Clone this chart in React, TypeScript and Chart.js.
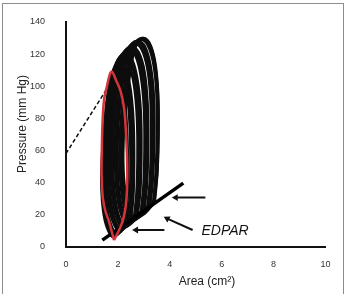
import React, { useEffect, useRef } from 'react';
import { Chart, registerables } from 'chart.js';

Chart.register(...registerables);

const FONT = "'Liberation Sans', Arial, Helvetica, sans-serif";

const xTickValues = [0, 2, 4, 6, 8, 10];
const yTickValues = [0, 20, 40, 60, 80, 100, 120, 140];
const xTitle = 'Area (cm²)';
const yTitle = 'Pressure (mm Hg)';
const edparLabel = 'EDPAR';
const edparLabelPos = [6.13, 9.4];

const loop1 = [[2.28,14],[2.36,26],[2.38,45],[2.36,68],[2.28,88],[2.12,103],[1.92,111],[1.74,106],[1.58,92],[1.46,72],[1.38,52],[1.37,36],[1.44,22],[1.58,12],[1.80,6],[2.02,9],[2.28,14]];
const loop2 = [[2.38,15],[2.46,28],[2.49,48],[2.47,72],[2.38,92],[2.20,106],[2.00,114],[1.80,109],[1.64,95],[1.52,75],[1.44,55],[1.43,38],[1.50,23],[1.64,13],[1.86,7],[2.10,10],[2.38,15]];
const loop2b = [[2.44,16],[2.53,30],[2.56,50],[2.54,74],[2.44,94],[2.26,108],[2.04,115],[1.84,110],[1.68,96],[1.56,76],[1.48,56],[1.47,39],[1.54,24],[1.68,13],[1.90,7],[2.15,10],[2.44,16]];
const loop3 = [[2.50,17],[2.59,31],[2.62,52],[2.60,76],[2.50,96],[2.32,110],[2.08,117],[1.88,112],[1.72,98],[1.60,78],[1.52,58],[1.51,40],[1.58,25],[1.72,14],[1.94,8],[2.20,11],[2.50,17]];
const loop4 = [[2.63,19],[2.72,33],[2.76,55],[2.74,80],[2.63,100],[2.44,113],[2.18,119],[1.96,115],[1.80,101],[1.67,81],[1.59,61],[1.58,42],[1.65,27],[1.80,16],[2.02,10],[2.30,13],[2.63,19]];
const loop4b = [[2.70,20],[2.79,34],[2.83,57],[2.81,82],[2.70,102],[2.50,115],[2.23,120],[2.01,116],[1.84,103],[1.71,83],[1.62,63],[1.61,43],[1.68,28],[1.83,16],[2.06,10],[2.35,13],[2.70,20]];
const loop5 = [[2.76,20],[2.86,35],[2.90,58],[2.88,83],[2.76,103],[2.56,116],[2.28,121],[2.05,117],[1.88,104],[1.75,84],[1.66,64],[1.65,44],[1.72,29],[1.87,17],[2.10,11],[2.40,14],[2.76,20]];
const loop6 = [[2.89,22],[2.99,38],[3.03,61],[3.01,86],[2.89,106],[2.68,119],[2.40,123],[2.15,119],[1.97,107],[1.83,87],[1.74,66],[1.73,46],[1.80,30],[1.95,18],[2.18,12],[2.50,15],[2.89,22]];
const loop6b = [[2.95,22],[3.05,39],[3.09,62],[3.07,88],[2.95,108],[2.74,120],[2.46,124],[2.20,120],[2.02,108],[1.87,88],[1.78,67],[1.77,47],[1.84,31],[1.99,18],[2.22,12],[2.55,15],[2.95,22]];
const loop7 = [[3.02,23],[3.12,40],[3.16,64],[3.14,89],[3.02,109],[2.80,121],[2.52,125],[2.26,121],[2.07,109],[1.92,90],[1.82,69],[1.81,48],[1.88,32],[2.03,19],[2.26,13],[2.60,16],[3.02,23]];
const loop8 = [[3.14,25],[3.24,42],[3.28,66],[3.26,92],[3.14,111],[2.92,123],[2.64,127],[2.38,123],[2.18,111],[2.02,92],[1.91,71],[1.90,50],[1.96,34],[2.11,21],[2.34,14],[2.70,18],[3.14,25]];
const loop8b = [[3.20,25],[3.30,43],[3.34,67],[3.32,93],[3.20,112],[2.98,124],[2.70,128],[2.44,124],[2.24,112],[2.07,93],[1.95,72],[1.94,51],[2.00,35],[2.15,21],[2.38,15],[2.75,18],[3.20,25]];
const loop9 = [[3.25,26],[3.35,44],[3.40,68],[3.38,94],[3.25,113],[3.03,125],[2.76,128],[2.50,125],[2.29,113],[2.12,94],[2.00,73],[1.98,52],[2.04,35],[2.19,22],[2.42,15],[2.80,19],[3.25,26]];
const loop10 = [[3.36,27],[3.46,46],[3.51,70],[3.49,96],[3.36,115],[3.14,126],[2.88,129],[2.62,126],[2.41,115],[2.23,96],[2.10,75],[2.06,54],[2.12,37],[2.27,23],[2.50,16],[2.90,20],[3.36,27]];
const loop10b = [[3.40,28],[3.49,46],[3.54,71],[3.52,96],[3.39,116],[3.17,127],[2.93,130],[2.67,127],[2.46,116],[2.28,97],[2.15,76],[2.10,55],[2.16,38],[2.31,24],[2.54,16],[2.94,20],[3.40,28]];
const loop11 = [[3.42,28],[3.52,47],[3.56,72],[3.54,97],[3.42,116],[3.21,127],[2.98,130],[2.72,127],[2.51,117],[2.32,98],[2.19,77],[2.14,56],[2.20,39],[2.35,24],[2.58,17],[2.98,21],[3.42,28]];
const loop12 = [[3.38,27],[3.50,44],[3.55,66],[3.55,90],[3.46,110],[3.28,124],[3.05,129],[2.80,128],[2.58,119],[2.40,100],[2.26,80],[2.20,58],[2.24,40],[2.38,26],[2.60,18],[2.98,20],[3.38,27]];
const blackLoops = [loop1, loop2, loop2b, loop3, loop4, loop4b, loop5, loop6, loop6b, loop7, loop8, loop8b, loop9, loop10, loop10b, loop11, loop12];

const redLoop = [[1.85,4],[1.98,8],[2.12,13],[2.22,18],[2.30,25],[2.35,35],[2.36,50],[2.32,68],[2.24,86],[2.10,97],[1.92,104],[1.78,109],[1.70,108],[1.58,100],[1.47,92],[1.41,78],[1.38,60],[1.37,45],[1.42,30],[1.52,22],[1.65,16],[1.75,10],[1.85,4]];

const dashedLine = [[0,58],[1.6,99]];
const edparLine = [[1.4,4],[4.52,39.5]];

const arrowShafts = [
  [[5.37,30.5],[4.23,30.5]],
  [[4.88,10.3],[3.9,17.4]],
  [[3.79,10.3],[2.7,10.3]],
];
const arrowHeads = [[4.23,30.5],[3.9,17.4],[2.7,10.3]];
const arrowAngles = [-90, -62, -90];

const toXY = (arr: number[][]) => arr.map(([x, y]) => ({ x, y }));

const textPlugin = {
  id: 'textPlugin',
  afterDraw(chart: any) {
    const { ctx, chartArea, scales } = chart;
    ctx.save();
    ctx.fillStyle = '#222';
    ctx.font = `12px ${FONT}`;
    ctx.textAlign = 'center';
    ctx.textBaseline = 'middle';
    ctx.fillText(xTitle, chartArea.left + 141, chartArea.bottom + 35);
    ctx.save();
    ctx.translate(chartArea.left - 43, chartArea.top + 102);
    ctx.rotate(-Math.PI / 2);
    ctx.fillText(yTitle, 0, 0);
    ctx.restore();
    ctx.font = `italic 14px ${FONT}`;
    ctx.fillStyle = '#111';
    ctx.fillText(edparLabel, scales.x.getPixelForValue(edparLabelPos[0]), scales.y.getPixelForValue(edparLabelPos[1]));
    ctx.restore();
  },
};

export default function App() {
  const ref = useRef<HTMLCanvasElement>(null);
  useEffect(() => {
    if (!ref.current) return;
    const datasets: any[] = [];
    datasets.push({
      data: toXY(redLoop), showLine: true, borderColor: '#d3353b', borderWidth: 2.5,
      pointRadius: 0, tension: 0.35, order: 0,
    });
    arrowShafts.forEach((s) => datasets.push({
      data: toXY(s), showLine: true, borderColor: '#111', borderWidth: 2, pointRadius: 0, order: 1,
    }));
    datasets.push({
      data: toXY(arrowHeads), showLine: false, pointStyle: 'triangle', pointRadius: 4,
      pointRotation: arrowAngles, backgroundColor: '#111', borderColor: '#111', borderWidth: 0, order: 1,
    });
    datasets.push({
      data: toXY(edparLine), showLine: true, borderColor: '#000', borderWidth: 3.5, pointRadius: 0, order: 1,
    });
    datasets.push({
      data: toXY(dashedLine), showLine: true, borderColor: '#111', borderWidth: 1.5, borderDash: [4, 2.5],
      pointRadius: 0, order: 2,
    });
    blackLoops.forEach((l) => datasets.push({
      data: toXY(l), showLine: true, borderColor: '#0d0d0d', borderWidth: 2.8, pointRadius: 0,
      tension: 0.35, order: 3,
    }));

    const chart = new Chart(ref.current, {
      type: 'scatter',
      data: { datasets },
      plugins: [textPlugin],
      options: {
        animation: false,
        responsive: false,
        maintainAspectRatio: false,
        layout: { padding: { left: 0, right: 21.5, top: 22, bottom: 0 } },
        plugins: { legend: { display: false }, tooltip: { enabled: false } },
        scales: {
          x: {
            type: 'linear', min: 0, max: 10,
            afterBuildTicks: (s: any) => { s.ticks = xTickValues.map((v) => ({ value: v })); },
            afterFit: (s: any) => { s.height = 47.5; },
            grid: { display: false },
            border: { display: true, color: '#111', width: 2 },
            ticks: { color: '#333', font: { family: FONT, size: 9 }, padding: 5 },
          },
          y: {
            type: 'linear', min: 0, max: 140,
            afterBuildTicks: (s: any) => { s.ticks = yTickValues.map((v) => ({ value: v })); },
            afterFit: (s: any) => { s.width = 66; },
            grid: { display: false },
            border: { display: true, color: '#111', width: 2 },
            ticks: { color: '#333', font: { family: FONT, size: 9 }, padding: 13 },
          },
        },
      },
    });
    return () => chart.destroy();
  }, []);

  return (
    <div style={{ position: 'absolute', left: 0, top: 0, width: 347, height: 294, overflow: 'hidden', background: '#fff' }}>
      <div style={{ position: 'absolute', left: 2, top: 3, width: 342, height: 310, border: '1px solid #8c8c8c', boxSizing: 'border-box' }} />
      <canvas ref={ref} width={347} height={294} style={{ position: 'absolute', left: 0, top: 0, width: 347, height: 294 }} />
    </div>
  );
}
